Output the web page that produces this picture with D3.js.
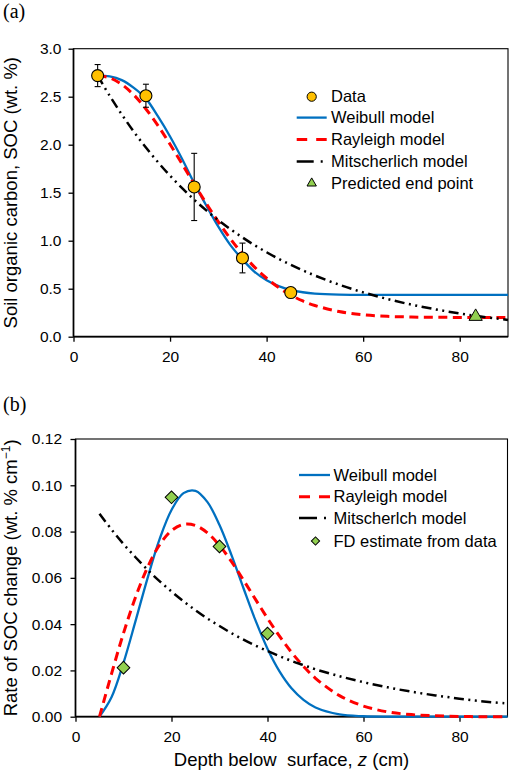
<!DOCTYPE html>
<html>
<head>
<meta charset="utf-8">
<script src="https://cdn.jsdelivr.net/npm/d3@7"></script>
<style>
  html, body { margin: 0; padding: 0; background: #fff; }
  svg { display: block; }
  text { font-family: "Liberation Sans", Arial, sans-serif; fill: #000; }
</style>
</head>
<body>
<svg id="chart" width="510" height="773"></svg>
<script>
// ---------------- data ----------------
const depth = [5,7.5,10,12.5,15,17.5,20,22.5,25,27.5,30,32.5,35,37.5,40,42.5,45,47.5,50,55,60,65,70,75,80,85,90];

// panel (a): SOC curves (wt. %)
const weibullSOC  = [2.72,2.712,2.673,2.592,2.48,2.294,2.085,1.851,1.60,1.367,1.146,0.954,0.805,0.676,0.587,0.527,0.487,0.463,0.449,0.438,0.436,0.435,0.435,0.435,0.435,0.435,0.435];
const rayleighSOC = [2.72,2.697,2.628,2.518,2.372,2.198,2.004,1.799,1.591,1.388,1.196,1.020,0.862,0.725,0.609,0.512,0.434,0.372,0.325,0.262,0.228,0.212,0.205,0.202,0.201,0.200,0.200];
const mitschSOC   = [2.72,2.509,2.315,2.135,1.970,1.818,1.677,1.547,1.427,1.316,1.214,1.120,1.034,0.953,0.880,0.811,0.749,0.691,0.637,0.542,0.462,0.393,0.334,0.285,0.242,0.206,0.175];

const dataDepth = [5,15,25,35,45];
const dataSOC   = [2.72,2.51,1.56,0.82,0.46];
const dataErr   = [0.115,0.12,0.35,0.155,0.02];
const endDepth  = [83.3];
const endSOC    = [0.21];

// panel (b): rate of SOC change (wt. % cm^-1)
const weibullRate  = [0,0.0084,0.0233,0.0413,0.0598,0.0766,0.0893,0.0966,0.0976,0.0927,0.0828,0.0698,0.0555,0.0416,0.0294,0.0196,0.0123,0.0073,0.0040,0.0010,0.0002,0,0,0,0,0,0];
const rayleighRate = [0,0.0185,0.0361,0.0516,0.0645,0.0742,0.0804,0.0831,0.0826,0.0794,0.0740,0.0670,0.0590,0.0507,0.0425,0.0348,0.0278,0.0218,0.0166,0.0091,0.0046,0.0021,0.0009,0.0004,0.0001,0,0];
const mitschRate   = [0.0877,0.0809,0.0746,0.0689,0.0635,0.0586,0.0541,0.0499,0.0460,0.0424,0.0392,0.0361,0.0333,0.0307,0.0284,0.0262,0.0241,0.0223,0.0205,0.0175,0.0149,0.0127,0.0108,0.0092,0.0078,0.0066,0.0057];

const fdDepth = [10,20,30,40];
const fdRate  = [0.0212,0.0948,0.0736,0.0359];

const xTicks  = [0,20,40,60,80];
const yTicksA = [0,0.5,1.0,1.5,2.0,2.5,3.0];
const yTicksB = [0,0.02,0.04,0.06,0.08,0.10,0.12];

const legendA = ["Data","Weibull model","Rayleigh model","Mitscherlich model","Predicted end point"];
const legendB = ["Weibull model","Rayleigh model","Mitscherlch model","FD estimate from data"];

// ---------------- styles ----------------
const BLUE = "#0070C0", RED = "#FF0000", BLACK = "#000", ORANGE = "#FFC000", GREEN = "#92D050";
const redDash = "9,5.5";
const blackDash = "10,4.5,2,4.5,2,4.5";
const tickFont = "15.5px", legFont = "16.5px", titleFont = "18.5px";

const svg = d3.select("#chart");

function panel(opts) {
  const g = svg.append("g");
  const x = d3.scaleLinear().domain([0,90]).range([opts.left, opts.right]);
  const y = d3.scaleLinear().domain(opts.yDomain).range([opts.bottom, opts.top]);

  // frame
  g.append("rect").attr("x", opts.left).attr("y", opts.top)
    .attr("width", opts.right - opts.left).attr("height", opts.bottom - opts.top)
    .attr("fill", "none").attr("stroke", "#000").attr("stroke-width", 1.1);

  // axes
  const ax = g.append("g").attr("transform", `translate(0,${opts.bottom})`)
    .call(d3.axisBottom(x).tickValues(xTicks).tickSize(5).tickPadding(9).tickFormat(d3.format("d")));
  const ay = g.append("g").attr("transform", `translate(${opts.left},0)`)
    .call(d3.axisLeft(y).tickValues(opts.yTicks).tickSize(5).tickPadding(opts.yPad).tickFormat(d3.format(opts.yFmt)));
  [ax, ay].forEach(a => {
    a.select(".domain").remove();
    a.selectAll(".tick line").attr("stroke", "#000").attr("stroke-width", 1.3);
    a.selectAll(".tick text").style("font-size", tickFont).attr("fill", "#000")
      .style("font-family", '"Liberation Sans", Arial, sans-serif');
  });
  g.append("line").attr("x1", opts.left).attr("x2", opts.left).attr("y1", opts.top).attr("y2", opts.bottom)
    .attr("stroke", "#000").attr("stroke-width", 1.7);
  g.append("line").attr("x1", opts.left).attr("x2", opts.right).attr("y1", opts.bottom).attr("y2", opts.bottom)
    .attr("stroke", "#000").attr("stroke-width", 1.7);

  const line = d3.line().x(d => x(d[0])).y(d => y(d[1])).curve(d3.curveCatmullRom.alpha(0.5));
  opts.series.forEach(s => {
    g.append("path").datum(depth.map((z,i) => [z, s.values[i]]))
      .attr("d", line).attr("fill", "none").attr("stroke", s.color)
      .attr("stroke-width", s.width).attr("stroke-dasharray", s.dash || null);
  });
  return {g, x, y};
}

// ---------------- panel (a) ----------------
const A = panel({
  left: 73.5, right: 508, top: 48.7, bottom: 336.7, yDomain: [0,3], yTicks: yTicksA, yFmt: ".1f", yPad: 7,
  series: [
    {values: weibullSOC, color: BLUE, width: 2.3},
    {values: rayleighSOC, color: RED, width: 3, dash: redDash},
    {values: mitschSOC, color: BLACK, width: 2.5, dash: blackDash}
  ]
});
// error bars
const errG = A.g.append("g").attr("stroke", "#000").attr("stroke-width", 1.1);
dataDepth.forEach((z,i) => {
  const cx = A.x(z), y1 = A.y(dataSOC[i] + dataErr[i]), y2 = A.y(dataSOC[i] - dataErr[i]);
  errG.append("line").attr("x1", cx).attr("x2", cx).attr("y1", y1).attr("y2", y2);
  errG.append("line").attr("x1", cx - 3).attr("x2", cx + 3).attr("y1", y1).attr("y2", y1);
  errG.append("line").attr("x1", cx - 3).attr("x2", cx + 3).attr("y1", y2).attr("y2", y2);
});
A.g.selectAll("circle.data").data(dataDepth).join("circle").attr("class","data")
  .attr("cx", d => A.x(d)).attr("cy", (d,i) => A.y(dataSOC[i])).attr("r", 6)
  .attr("fill", ORANGE).attr("stroke", "#000").attr("stroke-width", 1.1);
A.g.selectAll("path.end").data(endDepth).join("path").attr("class","end")
  .attr("d", d3.symbol(d3.symbolTriangle, 76))
  .attr("transform", (d,i) => `translate(${A.x(d)},${A.y(endSOC[i])})`)
  .attr("fill", GREEN).attr("stroke", "#000").attr("stroke-width", 1);

// legend (a)
const legA = svg.append("g");
const rowsA = [96.7, 117.6, 139.4, 161.6, 183.3];
const lx0 = 296.7, lx1 = 326.7, ltx = 331;
legA.append("circle").attr("cx", (lx0+lx1)/2).attr("cy", rowsA[0]).attr("r", 4.6)
  .attr("fill", ORANGE).attr("stroke", "#000").attr("stroke-width", 1);
legA.append("line").attr("x1", lx0).attr("x2", lx1).attr("y1", rowsA[1]).attr("y2", rowsA[1])
  .attr("stroke", BLUE).attr("stroke-width", 2.3);
legA.append("line").attr("x1", lx0).attr("x2", lx1).attr("y1", rowsA[2]).attr("y2", rowsA[2])
  .attr("stroke", RED).attr("stroke-width", 3).attr("stroke-dasharray", "10.5,9");
legA.append("line").attr("x1", lx0).attr("x2", lx1).attr("y1", rowsA[3]).attr("y2", rowsA[3])
  .attr("stroke", BLACK).attr("stroke-width", 2.5).attr("stroke-dasharray", "17,7,2,10");
legA.append("path").attr("d", d3.symbol(d3.symbolTriangle, 38))
  .attr("transform", `translate(${(lx0+lx1)/2},${rowsA[4]})`)
  .attr("fill", GREEN).attr("stroke", "#000").attr("stroke-width", 1);
legA.selectAll("text").data(legendA).join("text")
  .attr("x", ltx).attr("y", (d,i) => rowsA[i]).attr("dy", "0.35em")
  .style("font-size", legFont).text(d => d);

// ---------------- panel (b) ----------------
const B = panel({
  left: 75.5, right: 507.5, top: 439, bottom: 716.7, yDomain: [0,0.12], yTicks: yTicksB, yFmt: ".2f", yPad: 8.5,
  series: [
    {values: weibullRate, color: BLUE, width: 2.3},
    {values: rayleighRate, color: RED, width: 3, dash: redDash},
    {values: mitschRate, color: BLACK, width: 2.5, dash: blackDash}
  ]
});
B.g.selectAll("path.fd").data(fdDepth).join("path").attr("class","fd")
  .attr("d", d3.symbol(d3.symbolSquare, 80))
  .attr("transform", (d,i) => `translate(${B.x(d)},${B.y(fdRate[i])}) rotate(45)`)
  .attr("fill", GREEN).attr("stroke", "#000").attr("stroke-width", 1);

// legend (b)
const legB = svg.append("g");
const rowsB = [475, 496.7, 518, 541];
const mx0 = 299, mx1 = 330, mtx = 333.5;
legB.append("line").attr("x1", mx0).attr("x2", mx1).attr("y1", rowsB[0]).attr("y2", rowsB[0])
  .attr("stroke", BLUE).attr("stroke-width", 2.3);
legB.append("line").attr("x1", mx0).attr("x2", mx1).attr("y1", rowsB[1]).attr("y2", rowsB[1])
  .attr("stroke", RED).attr("stroke-width", 3).attr("stroke-dasharray", "11,9");
legB.append("line").attr("x1", mx0).attr("x2", mx1).attr("y1", rowsB[2]).attr("y2", rowsB[2])
  .attr("stroke", BLACK).attr("stroke-width", 2.5).attr("stroke-dasharray", "18,7,2,10");
legB.append("path").attr("d", d3.symbol(d3.symbolSquare, 34))
  .attr("transform", `translate(${(mx0+mx1)/2 + 1},${rowsB[3]}) rotate(45)`)
  .attr("fill", GREEN).attr("stroke", "#000").attr("stroke-width", 1);
legB.selectAll("text").data(legendB).join("text")
  .attr("x", mtx).attr("y", (d,i) => rowsB[i]).attr("dy", "0.35em")
  .style("font-size", legFont).text(d => d);

// ---------------- titles ----------------
svg.append("text").attr("x", 3).attr("y", 18)
  .style("font-family", '"Liberation Serif", "Times New Roman", serif').style("font-size", "20px").text("(a)");
svg.append("text").attr("x", 3).attr("y", 411)
  .style("font-family", '"Liberation Serif", "Times New Roman", serif').style("font-size", "20px").text("(b)");

svg.append("text").attr("transform", `translate(16.7,${(48.7+336.7)/2}) rotate(-90)`)
  .attr("text-anchor", "middle").style("font-size", titleFont)
  .text("Soil organic carbon, SOC (wt. %)");

const tb = svg.append("text").attr("transform", `translate(16.7,${(439+716.7)/2}) rotate(-90)`)
  .attr("text-anchor", "middle").style("font-size", titleFont);
tb.append("tspan").text("Rate of SOC change (wt. % cm");
tb.append("tspan").attr("dy", -7).style("font-size", "12px").text("\u22121");
tb.append("tspan").attr("dy", 7).text(")");

const tx = svg.append("text").attr("x", (75.5+507.5)/2).attr("y", 766)
  .attr("text-anchor", "middle").style("font-size", titleFont).style("white-space", "pre");
tx.append("tspan").text("Depth below  surface, ");
tx.append("tspan").style("font-style", "italic").text("z");
tx.append("tspan").text(" (cm)");
</script>
</body>
</html>
